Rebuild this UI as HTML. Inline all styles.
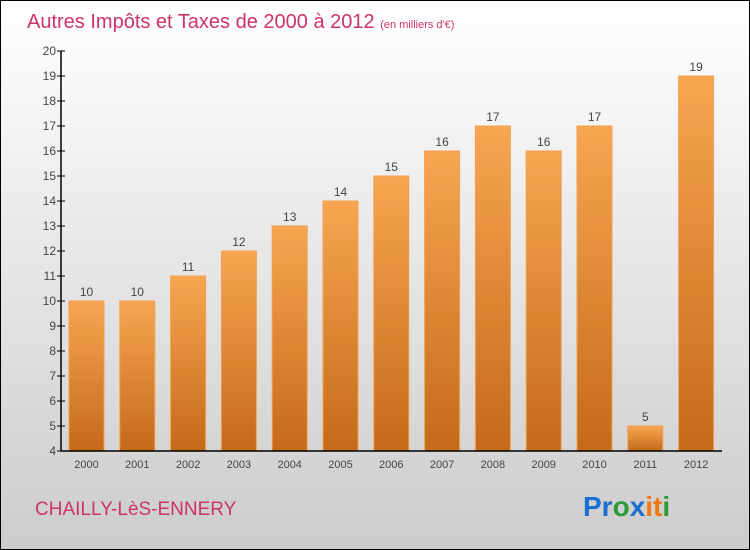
<!DOCTYPE html>
<html><head><meta charset="utf-8"><style>
body{margin:0}
#c{position:relative;width:748px;height:548px;border:1px solid #000;background:linear-gradient(#fff,#ccc);font-family:"Liberation Sans",sans-serif;overflow:hidden}
</style></head><body>
<div id="c">
<svg id="s" width="748" height="548">
<defs><linearGradient id="g" x1="0" y1="0" x2="0" y2="1"><stop offset="0" stop-color="#f7a652"/><stop offset="1" stop-color="#c46a1a"/></linearGradient></defs>
<text x="26" y="27" font-size="20" fill="#cc3366">Autres Impôts et Taxes de 2000 à 2012 <tspan font-size="11">(en milliers d'€)</tspan></text>
<text x="34" y="514" font-size="19" fill="#cc3366">CHAILLY-LèS-ENNERY</text>
<text x="582" y="515" font-size="28" font-weight="bold"><tspan fill="#1a6fd0">Pr</tspan><tspan fill="#2a9a3a">o</tspan><tspan fill="#1a6fd0">x</tspan><tspan fill="#f07a10">it</tspan><tspan fill="#2a9a3a">i</tspan></text>
<g id="plot"></g>
</svg></div>
<script>
const categories=["2000","2001","2002","2003","2004","2005","2006","2007","2008","2009","2010","2011","2012"];
const values=[10,10,11,12,13,14,15,16,17,16,17,5,19];
const yTicks=[4,5,6,7,8,9,10,11,12,13,14,15,16,17,18,19,20];
const ns="http://www.w3.org/2000/svg",p=document.getElementById('plot');
const y=v=>450-(v-4)*25, x=i=>85.5+i*50.8;
function el(t,a,txt){const e=document.createElementNS(ns,t);for(const k in a)e.setAttribute(k,a[k]);if(txt!==undefined)e.textContent=txt;p.appendChild(e);return e;}
categories.forEach((c,i)=>{
 const r=el('rect',{x:x(i)-17.5,y:y(values[i]),width:35,height:450-y(values[i]),fill:'url(#g)',stroke:'#f2a050','stroke-width':1});
 
 
 const t=el('text',{x:x(i),y:y(values[i])-5,'text-anchor':'middle','font-size':12,fill:'#444'},values[i]);
 
 
 const xl=el('text',{x:x(i),y:467,'text-anchor':'middle','font-size':11,fill:'#444'},c);
 
 
});
yTicks.forEach(v=>{
 const l=el('line',{x1:56,x2:64,y1:y(v),y2:y(v),stroke:'#000'});
 
 
 const t=el('text',{x:55,y:y(v)+4,'text-anchor':'end','font-size':12,fill:'#444'},v);
 
 
});
const ya=el('line',{x1:60,x2:60,y1:50,y2:450,stroke:'#000','stroke-width':1.5});


const xa=el('line',{x1:60,x2:721,y1:450,y2:450,stroke:'#000','stroke-width':1.5});


</script>
</body></html>
